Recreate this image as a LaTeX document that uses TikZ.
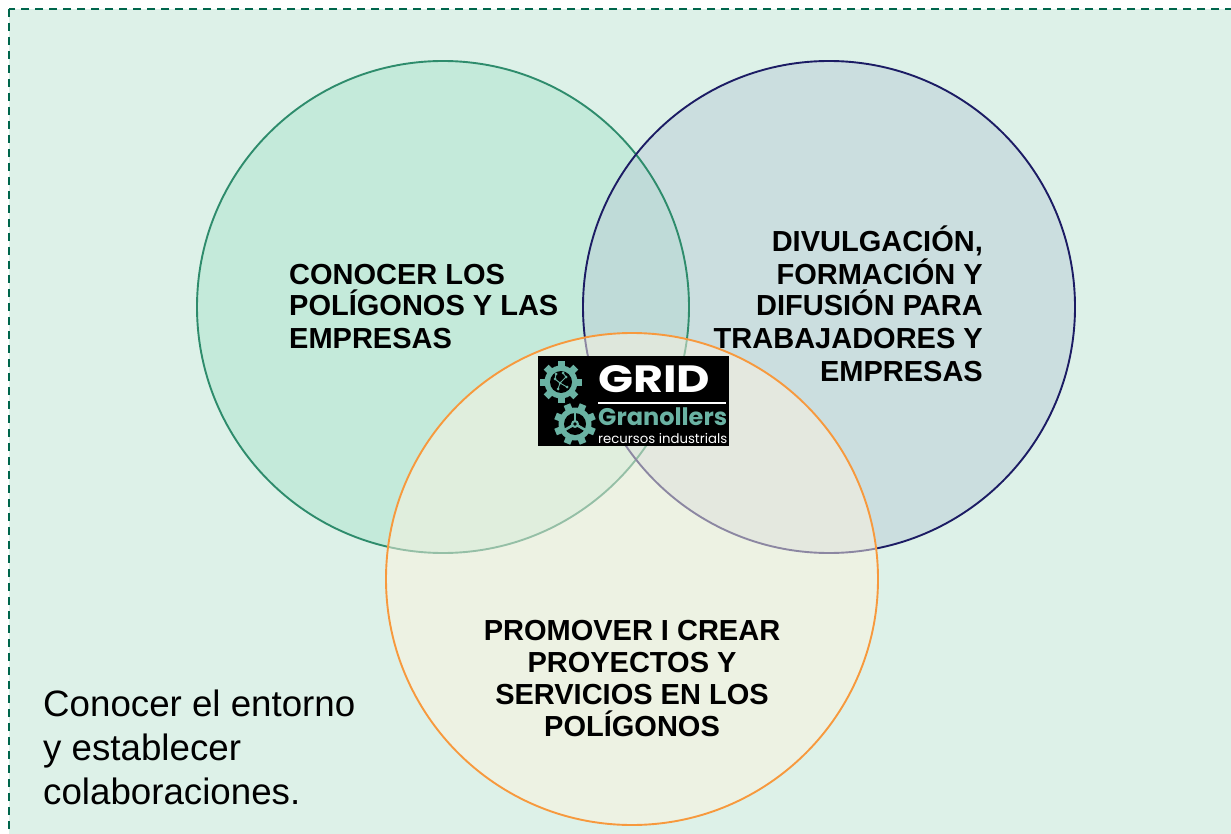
\documentclass[tikz,border=0pt]{standalone}
\usepackage{fontspec}
\setmainfont{Liberation Sans}
\newfontfamily\poppfont{Poppins}
\definecolor{bgc}{RGB}{221,241,232}
\definecolor{bordc}{RGB}{0,102,76}
\definecolor{gfill}{RGB}{173,229,206}
\definecolor{gline}{RGB}{46,140,108}
\definecolor{bfill}{RGB}{187,205,216}
\definecolor{bline}{RGB}{28,28,100}
\definecolor{ofill}{RGB}{253,243,224}
\definecolor{oline}{RGB}{247,153,61}
\definecolor{logoteal}{RGB}{106,178,163}
\begin{document}
\begin{tikzpicture}[x=1pt,y=-1pt,
  venn/.style={circle, minimum size=492pt, inner sep=0pt},
  btxt/.style={font=\fontsize{29}{32}\selectfont\bfseries, inner sep=0pt},
  ntxt/.style={font=\fontsize{36.7}{44}\selectfont, inner sep=0pt, anchor=base west}]
\useasboundingbox (0,0) rectangle (1231,834);
\fill[white] (0,0) rectangle (1231,834);
\filldraw[fill=bgc, draw=bordc, line width=2pt, dash pattern=on 8pt off 6pt] (9,9) rectangle (1250,850);
% circles
\node[venn, fill=gfill, fill opacity=0.5] (G) at (443,307) {};
\node[venn, fill=bfill, fill opacity=0.5] (B) at (829,307) {};
\draw[gline, line width=1.9pt] (G.center) circle (246);
\draw[bline, line width=1.9pt] (B.center) circle (246);
\node[venn, fill=ofill, fill opacity=0.5] (O) at (632,579) {};
\draw[oline, line width=1.9pt] (O.center) circle (246);
% green text
\node[btxt, anchor=base west] (g1) at (289,284) {CONOCER LOS};
\node[btxt, anchor=base west] (g2) at (289,316) {POLÍGONOS Y LAS};
\node[btxt, anchor=base west] (g3) at (289,348) {EMPRESAS};
% blue text
\node[btxt, anchor=base east] (b1) at (983,252) {DIVULGACIÓN,};
\node[btxt, anchor=base east] (b2) at (983,284) {FORMACIÓN Y};
\node[btxt, anchor=base east] (b3) at (983,316) {DIFUSIÓN PARA};
\node[btxt, anchor=base east] (b4) at (983,348) {TRABAJADORES Y};
\node[btxt, anchor=base east] (b5) at (983,381) {EMPRESAS};
% orange text
\node[btxt, anchor=base] (o1) at (632,640) {PROMOVER I CREAR};
\node[btxt, anchor=base] (o2) at (632,672) {PROYECTOS Y};
\node[btxt, anchor=base] (o3) at (632,704) {SERVICIOS EN LOS};
\node[btxt, anchor=base] (o4) at (632,736) {POLÍGONOS};
% bottom-left text
\node[ntxt] (t1) at (43,716) {Conocer el entorno};
\node[ntxt] (t2) at (43,760) {y establecer};
\node[ntxt] (t3) at (43,804) {colaboraciones.};
% logo
\fill[black] (538,356) rectangle (729,446);
% upper gear
\foreach \a in {0,45,...,315}
  \fill[logoteal, rotate around={\a:(561,382)}] (557.5,361) rectangle (564.5,370);
\fill[logoteal] (561,382) circle (16.5);
\fill[black] (561,382) circle (11);
\draw[logoteal, line width=0.9pt] (555,379) -- (560,383) -- (566,377) (560,383) -- (558,389) (560,383) -- (567,387) (555,379) -- (556,374) (566,377) -- (563,373);
\foreach \p in {(555,379),(560,383),(566,377),(558,389),(567,387),(556,374),(563,373)}
  \fill[logoteal] \p circle (1.5);
% lower gear
\foreach \a in {22.5,67.5,...,337.5}
  \fill[logoteal, rotate around={\a:(575,424)}] (571.5,403) rectangle (578.5,412);
\fill[logoteal] (575,424) circle (16.5);
\fill[black] (575,424) circle (11);
\foreach \a in {90,210,330}
  \draw[logoteal, line width=2.6pt] (575,424) -- ++(\a:-11.5);
\fill[logoteal] (575,424) circle (4);
\fill[black] (575,424) circle (1.8);
% logo texts
\node[inner sep=0pt, anchor=base west, text=white] (grid) at (598,392) {\resizebox{112pt}{27pt}{\poppfont\bfseries GRID}};
\draw[white, line width=2pt] (598,403) -- (726,403);
\node[inner sep=0pt, anchor=base west, text=logoteal] (gran) at (598,425) {\resizebox{129pt}{!}{\poppfont\bfseries Granollers}};
\node[inner sep=0pt, anchor=base west, text=white] (recu) at (598,443) {\resizebox{129pt}{!}{\poppfont recursos industrials}};
\end{tikzpicture}
\end{document}
